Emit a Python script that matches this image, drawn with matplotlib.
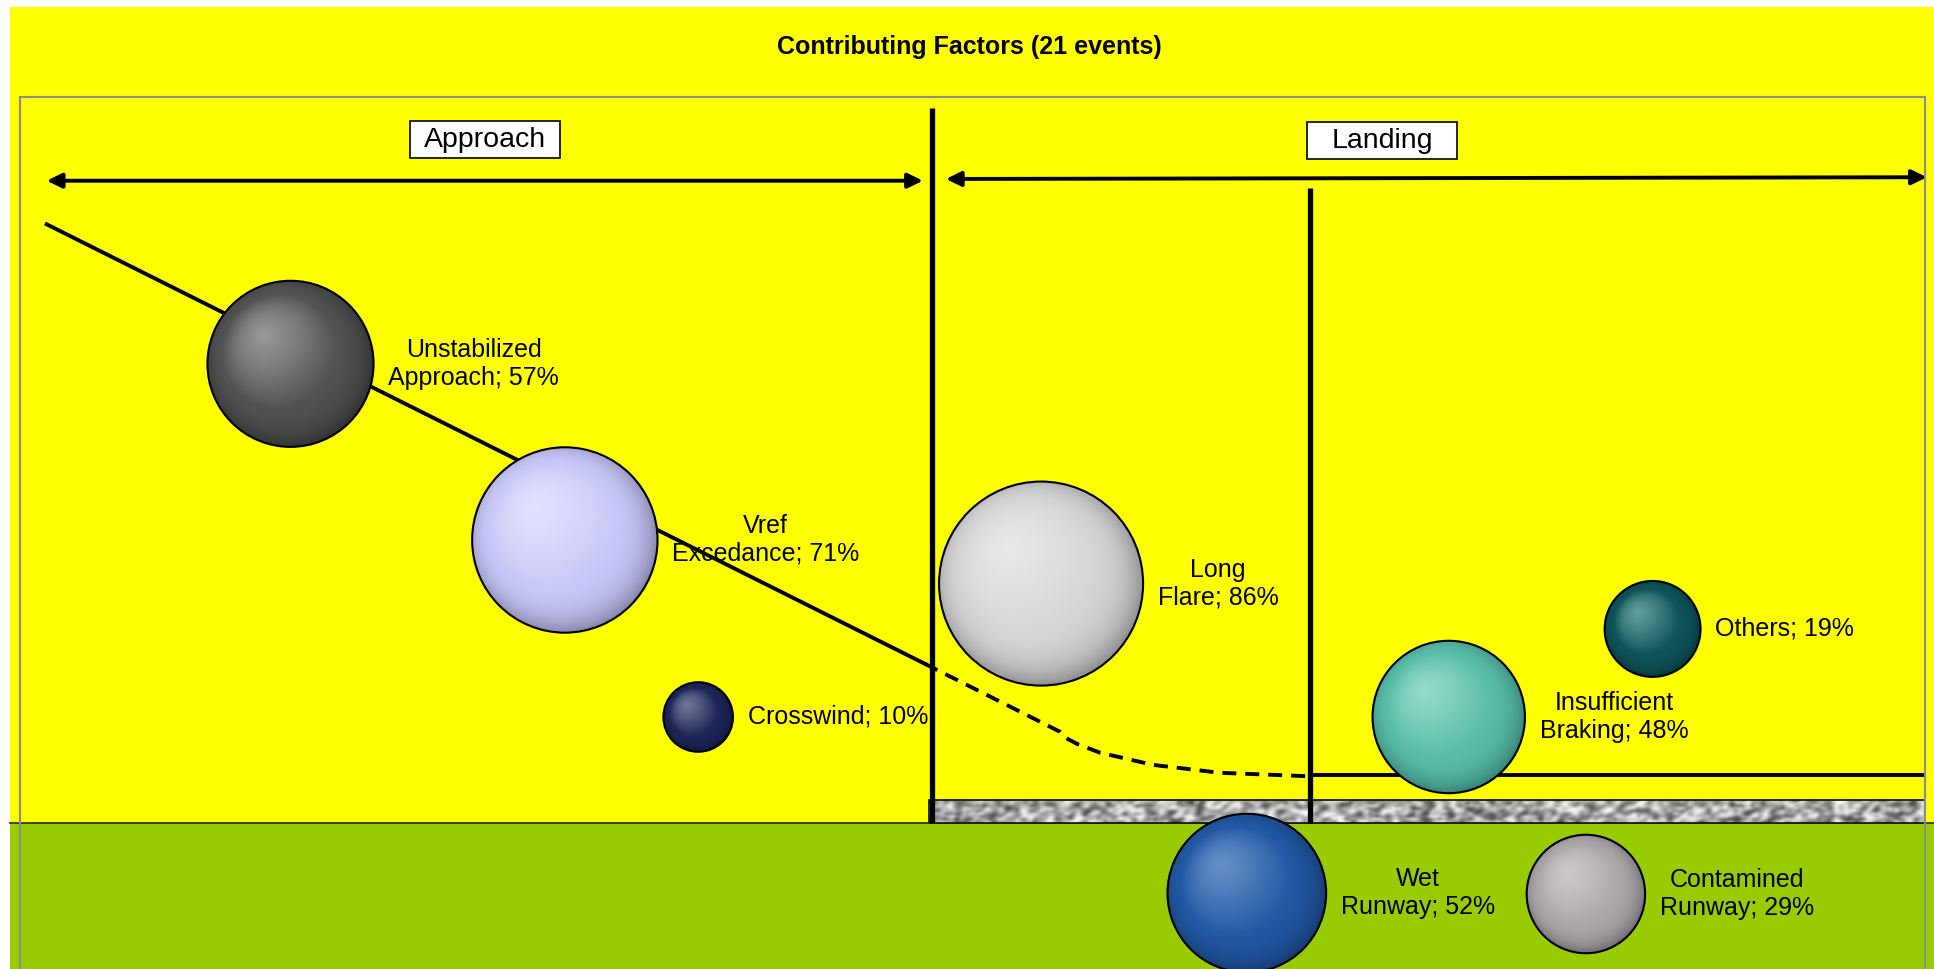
import numpy as np
import matplotlib
matplotlib.use('Agg')
import matplotlib.pyplot as plt
from matplotlib.patches import Rectangle, Ellipse, FancyArrowPatch
from matplotlib.lines import Line2D
from matplotlib.colors import to_rgb

plt.rcParams['font.family'] = ['Liberation Sans', 'DejaVu Sans']

# contributing factors: share of the 21 events (%) and bubble x / y on the chart scale (0-100)
factors = ['Unstabilized\nApproach', 'Vref\nExcedance', 'Crosswind', 'Long\nFlare',
           'Others', 'Insufficient\nBraking', 'Wet\nRunway', 'Contamined\nRunway']
share = [57, 71, 10, 86, 19, 48, 52, 29]
bx = [14.2, 28.6, 35.6, 53.6, 85.7, 75.0, 64.4, 82.2]
by = [69.4, 49.2, 28.9, 44.2, 39.0, 28.9, 8.7, 8.6]

# flight phases and the separators between them
phases = ['Approach', 'Landing']
phase_x = [24.4, 71.5]
phase_y = [95.1, 95.0]
arrow_x0 = [1.4, 48.6]
arrow_x1 = [47.4, 100.1]
arrow_y0 = [90.4, 90.6]
arrow_y1 = [90.4, 90.8]
sep_x = [47.9, 67.7]
sep_top = [98.7, 89.6]

# glide path: solid descent, dashed flare, then roll-out along the runway
path_x = [1.4, 47.5]
path_y = [85.4, 35.0]
flare_x = [47.5, 54.6, 54.9, 55.5, 56.7, 59.5, 63.0, 67.7]
flare_y = [35.0, 27.2, 26.5, 25.8, 24.8, 23.4, 22.5, 22.1]
roll_x = [67.7, 100.0]
roll_y = [22.2, 22.2]

ground_y = 16.7      # top of the grass
runway_top = 19.4

# sphere shading: highlight, body, rim
sphere_colors = [
    ('#9c9c9c', '#525252', '#343434'),
    ('#e4e4ff', '#c8c8f8', '#8a8ab0'),
    ('#767c9c', '#1e2658', '#10183c'),
    ('#eaeaea', '#d4d4d4', '#929292'),
    ('#66a2a2', '#0f5458', '#053a3e'),
    ('#98dccc', '#58bca8', '#3a8678'),
    ('#6a92c8', '#2258a4', '#173e74'),
    ('#cecace', '#aaa6aa', '#747074'),
]

W, H, DPI = 1934, 969, 100
AREA = 251.0  # marker area (pt^2) per percent

fig = plt.figure(figsize=(W / DPI, H / DPI), dpi=DPI, facecolor='white')

# chart background: yellow sky and green grass
fig.add_artist(Rectangle((10 / W, 0), 1 - 10 / W, 962 / H, transform=fig.transFigure,
                         facecolor='#ffff00', edgecolor='none', zorder=-3))
fig.add_artist(Rectangle((10 / W, 0), 1 - 10 / W, 146 / H, transform=fig.transFigure,
                         facecolor='#99cc00', edgecolor='none', zorder=-2))
fig.add_artist(Line2D([10 / W, 1], [146.5 / H, 146.5 / H], transform=fig.transFigure,
                      color='#2a2a00', lw=1.2, zorder=-1))

ax = fig.add_axes([20 / W, 0, 1905 / W, 872 / H])
ax.set_facecolor('none')
ax.set_xlim(0, 100)
ax.set_ylim(0, 100)
ax.set_autoscale_on(False)
ax.set_xticks([])
ax.set_yticks([])
ax.spines['bottom'].set_visible(False)
for s in ('left', 'top', 'right'):
    ax.spines[s].set_color('#8c8c8c')
    ax.spines[s].set_linewidth(1.5)

px_x = 1905 / 100.0
px_y = 872 / 100.0

# runway strip with an asphalt texture
rng = np.random.default_rng(3)
tex = rng.random((9, 300))
tex = (tex + np.roll(tex, 1, 1) + np.roll(tex, 1, 0) * 0.5) / 2.5
tex = np.clip((tex - tex.mean()) / tex.std() * 0.2 + 0.66, 0.15, 1.0)
ax.imshow(tex, cmap='gray', vmin=0, vmax=1, extent=(47.7, 100.5, ground_y, runway_top),
          aspect='auto', interpolation='bicubic', zorder=1)
ax.add_patch(Rectangle((47.7, ground_y), 53, runway_top - ground_y, facecolor='none',
                       edgecolor='#1a1a1a', lw=1.3, zorder=1.5))

# phase separators, arrows and captions
for x, top in zip(sep_x, sep_top):
    ax.plot([x, x], [ground_y, top], color='black', lw=3.8, solid_capstyle='butt', zorder=2)
for x0, x1, y0, y1 in zip(arrow_x0, arrow_x1, arrow_y0, arrow_y1):
    ax.add_patch(FancyArrowPatch((x0, y0), (x1, y1), arrowstyle='<|-|>,head_length=0.45,head_width=0.22',
                                 mutation_scale=20, lw=2.8, color='black', shrinkA=0, shrinkB=0,
                                 zorder=2, clip_on=False))
bw, bh = 150 / px_x, 37 / px_y
for name, x, y in zip(phases, phase_x, phase_y):
    ax.add_patch(Rectangle((x - bw / 2, y - bh / 2), bw, bh, facecolor='white',
                           edgecolor='black', lw=1.2, zorder=3))
    ax.text(x, y, name, ha='center', va='center', fontsize=20.5, zorder=4)

ax.plot(path_x, path_y, color='black', lw=2.8, zorder=2)
ax.plot(flare_x, flare_y, color='black', lw=2.8, dashes=(3.6, 2.3), zorder=2)
ax.plot(roll_x, roll_y, color='black', lw=2.8, zorder=2)


def sphere(hi, mid, rim, n=320):
    u = np.linspace(-1, 1, n)
    xx, yy = np.meshgrid(u, -u)
    rho = np.hypot(xx, yy)
    d = np.hypot(xx + 0.33, yy - 0.36) / 1.5
    t = np.clip(0.62 * d + 0.45 * rho ** 5, 0, 1)
    hi, mid, rim = (np.array(to_rgb(c)) for c in (hi, mid, rim))
    a = np.clip(t / 0.4, 0, 1)[..., None]
    b = np.clip((t - 0.42) / 0.58, 0, 1)[..., None] ** 1.2
    img = hi * (1 - a) + mid * a
    return img * (1 - b) + rim * b


sizes = [AREA * v for v in share]
for x, y, s, cols in zip(bx, by, sizes, sphere_colors):
    r_px = np.sqrt(s) / 2 * DPI / 72
    rx, ry = r_px / px_x, r_px / px_y
    im = ax.imshow(sphere(*cols), extent=(x - rx, x + rx, y - ry, y + ry),
                   aspect='auto', interpolation='bilinear', zorder=5)
    clip = Ellipse((x, y), 2 * rx, 2 * ry, transform=ax.transData, facecolor='none', edgecolor='none')
    ax.add_patch(clip)
    im.set_clip_path(clip)
ax.scatter(bx, by, s=sizes, facecolors='none', edgecolors='black', linewidths=1.5, zorder=6)

for name, v, x, y, s in zip(factors, share, bx, by, sizes):
    ax.annotate(f'{name}; {v}%', (x, y), xytext=(np.sqrt(s) / 2 + 10.5, 0),
                textcoords='offset points', ha='left', va='center', multialignment='center',
                fontsize=18, zorder=7)

fig.text(969 / W, 1 - 47 / H, 'Contributing Factors (21 events)', ha='center', va='center',
         fontsize=18, fontweight='bold')

fig.savefig('out.png', dpi=DPI)
